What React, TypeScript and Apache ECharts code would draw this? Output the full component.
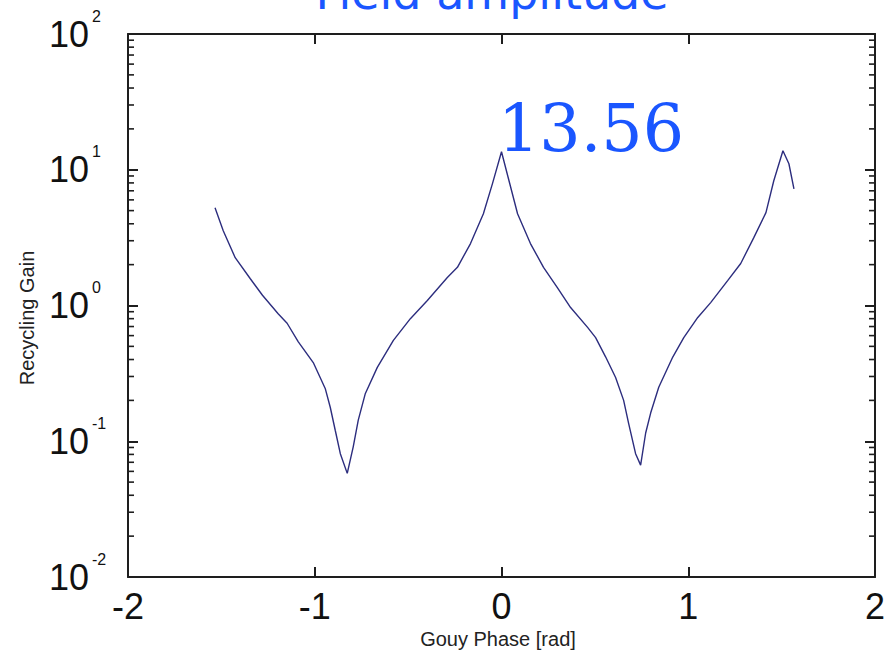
import React, { useEffect, useRef } from "react";
import * as echarts from "echarts";

// Gouy phase [rad]
const xValues = [
  -1.534, -1.49, -1.426, -1.346, -1.28, -1.196, -1.148, -1.088, -1.008, -0.944,
  -0.917, -0.89, -0.863, -0.826, -0.794, -0.767, -0.729, -0.665, -0.579, -0.488,
  -0.397, -0.29, -0.236, -0.166, -0.097, -0.048, 0.0, 0.086, 0.155, 0.225,
  0.3, 0.37, 0.461, 0.504, 0.558, 0.611, 0.654, 0.681, 0.718, 0.745,
  0.772, 0.799, 0.842, 0.917, 0.976, 1.051, 1.12, 1.212, 1.281, 1.351,
  1.416, 1.458, 1.507, 1.539, 1.566,
];

// Recycling gain
const gainValues = [
  5.25, 3.55, 2.25, 1.58, 1.19, 0.87, 0.74, 0.54, 0.38, 0.245,
  0.178, 0.12, 0.081, 0.058, 0.091, 0.143, 0.225, 0.35, 0.553, 0.8,
  1.09, 1.61, 1.91, 2.86, 4.74, 7.94, 13.56, 4.74, 2.86, 1.91,
  1.35, 0.966, 0.69, 0.58, 0.417, 0.295, 0.2, 0.135, 0.081, 0.0667,
  0.115, 0.162, 0.25, 0.417, 0.58, 0.817, 1.05, 1.53, 2.04, 3.16,
  4.83, 8.3, 13.8, 11.07, 7.24,
];

const xMin = -2;
const xMax = 2;
const xInterval = 1;
const yMin = 0.01;
const yMax = 100;
const yDecades = [0.01, 0.1, 1, 10];
const yMinorMultipliers = [2, 3, 4, 5, 6, 7, 8, 9];

const titleText = "Field amplitude";
const peakLabel = "13.56";
const xName = "Gouy Phase [rad]";
const yName = "Recycling Gain";

const AXIS_COLOR = "#1e1e1e";
const LINE_COLOR = "#2c2d7e";
const BLUE = "#1a56ff";

export default function App() {
  const ref = useRef<HTMLDivElement>(null);

  useEffect(() => {
    if (!ref.current) return;
    const chart = echarts.init(ref.current, undefined, { renderer: "svg" });

    const axisLine = { show: true, onZero: false, lineStyle: { color: AXIS_COLOR, width: 2 } };
    const axisTick = { show: true, inside: true, length: 10, lineStyle: { color: AXIS_COLOR, width: 2 } };

    const textGraphics: any[] = [
      {
        type: "text",
        x: 492,
        y: -7,
        style: {
          text: titleText,
          fill: BLUE,
          font: '46px "DejaVu Sans"',
          align: "center",
          verticalAlign: "middle",
        },
      },
      {
        type: "text",
        x: 498,
        y: 128,
        style: {
          text: peakLabel,
          fill: BLUE,
          font: '65px "DejaVu Serif"',
          align: "left",
          verticalAlign: "middle",
        },
      },
      {
        type: "text",
        x: 498,
        y: 639,
        style: {
          text: xName,
          fill: "#222",
          font: '20px "Liberation Sans"',
          align: "center",
          verticalAlign: "middle",
        },
      },
      {
        type: "text",
        x: 27,
        y: 318,
        rotation: Math.PI / 2,
        style: {
          text: yName,
          fill: "#222",
          font: '20px "Liberation Sans"',
          align: "center",
          verticalAlign: "middle",
        },
      },
    ];

    chart.setOption({
      animation: false,
      backgroundColor: "#ffffff",
      grid: { left: 128, right: 15, top: 34, bottom: 73, containLabel: false },
      xAxis: [
        {
          type: "value",
          min: xMin,
          max: xMax,
          interval: xInterval,
          position: "bottom",
          axisLine,
          axisTick,
          splitLine: { show: false },
          axisLabel: {
            fontSize: 36,
            fontFamily: "Liberation Sans",
            color: "#111",
            margin: 11,
            formatter: (v: number) => String(v),
          },
        },
        {
          type: "value",
          min: xMin,
          max: xMax,
          interval: xInterval,
          position: "top",
          axisLine,
          axisTick,
          splitLine: { show: false },
          axisLabel: { show: false },
        },
      ],
      yAxis: [
        {
          type: "log",
          logBase: 10,
          min: yMin,
          max: yMax,
          position: "left",
          axisLine,
          axisTick,
          splitLine: { show: false },
          minorTick: { show: false },
          axisLabel: {
            align: "left",
            margin: 79,
            formatter: (v: number) => `{a|10}{b|${Math.round(Math.log10(v))}}`,
            rich: {
              a: { fontSize: 36, lineHeight: 52, fontFamily: "Liberation Sans", color: "#111" },
              b: {
                fontSize: 16,
                lineHeight: 16,
                verticalAlign: "top",
                fontFamily: "Liberation Sans",
                color: "#111",
                padding: [0, 0, 0, 3],
              },
            },
          },
        },
        {
          type: "log",
          logBase: 10,
          min: yMin,
          max: yMax,
          position: "right",
          axisLine,
          axisTick,
          splitLine: { show: false },
          minorTick: { show: false },
          axisLabel: { show: false },
        },
      ],
      series: [
        {
          type: "line",
          xAxisIndex: 0,
          yAxisIndex: 0,
          data: xValues.map((x, i) => [x, gainValues[i]]),
          symbol: "none",
          smooth: false,
          lineStyle: { color: LINE_COLOR, width: 1.4 },
        },
      ],
      graphic: textGraphics,
    });

    // Minor log ticks (2..9 in each decade) on left and right frame edges
    const xl = chart.convertToPixel({ xAxisIndex: 0 }, xMin) as number;
    const xr = chart.convertToPixel({ xAxisIndex: 0 }, xMax) as number;
    const tickGraphics: any[] = [];
    yDecades.forEach((d) => {
      yMinorMultipliers.forEach((m) => {
        const py = chart.convertToPixel({ yAxisIndex: 0 }, d * m) as number;
        tickGraphics.push({
          type: "line",
          silent: true,
          shape: { x1: xl, y1: py, x2: xl + 6, y2: py },
          style: { stroke: AXIS_COLOR, lineWidth: 1.6 },
        });
        tickGraphics.push({
          type: "line",
          silent: true,
          shape: { x1: xr, y1: py, x2: xr - 6, y2: py },
          style: { stroke: AXIS_COLOR, lineWidth: 1.6 },
        });
      });
    });
    chart.setOption({ graphic: [...textGraphics, ...tickGraphics] });

    return () => chart.dispose();
  }, []);

  return (
    <div
      ref={ref}
      style={{ position: "fixed", left: 0, top: 0, width: 890, height: 650, background: "#fff" }}
    />
  );
}
